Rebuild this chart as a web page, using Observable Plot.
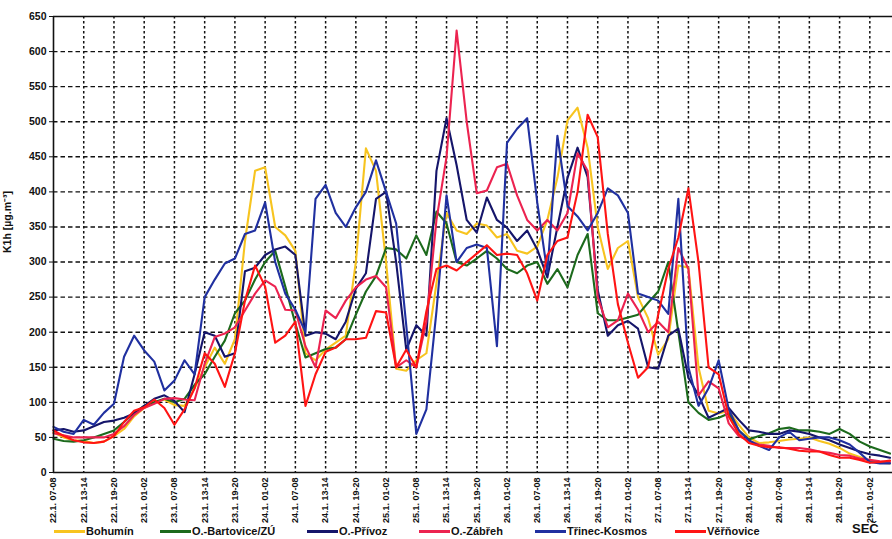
<!DOCTYPE html>
<html>
<head>
<meta charset="utf-8">
<script src="https://cdn.jsdelivr.net/npm/d3@7"></script>
<script src="https://cdn.jsdelivr.net/npm/@observablehq/plot@0.6"></script>
<style>
  body { margin: 0; background: #fff; font-family: "Liberation Sans", Arial, sans-serif; }
  #chart { position: relative; width: 892px; height: 539px; overflow: hidden; }
  #chart svg { display: block; }
  .legend { position: absolute; top: 522px; left: 0; width: 892px; height: 17px; font-weight: bold; font-size: 11px; color: #111; }
  .item { position: absolute; top: 2px; height: 14px; line-height: 14px; white-space: nowrap; }
  .sw { display: inline-block; width: 31px; height: 0; border-top: 3px solid; vertical-align: middle; margin-right: 1px; position: relative; top: -1px; }
  .unit { position: absolute; top: -1px; left: 852px; font-size: 13px; font-weight: bold; background: transparent; }
</style>
</head>
<body>
<div id="chart"></div>
<script>
// Hourly PM10 concentrations (K1h), sampled every 2 hours from 22.1. 07-08 onwards
const stepHours = 2;

const stations = ["Bohumín", "O.-Bartovice/ZÚ", "O.-Přívoz", "O.-Zábřeh", "Třinec-Kosmos", "Věřňovice"];
const colors = ["#f7c41f", "#1c6a1c", "#15156a", "#ec2350", "#2030a0", "#ff1414"];

const bohumin = [
  57, 50, 46, 45, 42, 44, 52, 62, 80, 92, 100, 104,
  96, 95, 120, 150, 178, 155, 190, 330, 430, 435, 350, 338,
  316, 170, 160, 175, 185, 195, 300, 462, 430, 300, 148, 145,
  160, 170, 270, 370, 345, 340, 355, 352, 335, 340, 316, 312,
  322, 360, 420, 502, 520, 463, 350, 290, 320, 330, 250, 220,
  168, 190, 295, 292, 150, 88, 84, 88, 68, 50, 42, 43,
  45, 47, 48, 50, 45, 41, 35, 27, 22, 16, 14, 13
];
const bartovice = [
  48, 45, 44, 46, 50, 55, 60, 72, 85, 95, 100, 105,
  100, 105, 125, 140, 165, 188, 227, 245, 275, 300, 316, 265,
  212, 164, 170, 176, 178, 190, 225, 258, 280, 320, 318, 305,
  338, 310, 372, 355, 300, 295, 305, 316, 305, 290, 284, 295,
  300, 269, 290, 264, 310, 340, 227, 217, 217, 221, 225, 242,
  258, 300, 200, 100, 85, 75, 78, 84, 60, 47, 52, 56,
  62, 64, 60, 60, 58, 55, 62, 55, 44, 37, 32, 27
];
const privoz = [
  60, 62, 58, 60, 66, 72, 74, 78, 84, 95, 105, 110,
  102, 86, 140, 200, 195, 165, 170, 287, 292, 310, 318, 322,
  310, 195, 200, 198, 190, 215, 262, 284, 390, 400, 300, 175,
  210, 195, 430, 505, 438, 360, 342, 392, 360, 349, 330, 345,
  318, 278, 350, 420, 463, 421, 260, 195, 210, 216, 205, 150,
  148, 195, 205, 135, 110, 78, 85, 92, 75, 60, 58, 55,
  55, 60, 58, 55, 50, 46, 40, 35, 30, 26, 24, 21
];
const zabreh = [
  56, 53, 50, 50, 50, 50, 55, 66, 82, 92, 98, 105,
  106, 104, 103, 155, 193, 198, 207, 231, 255, 274, 265, 232,
  231, 180, 150, 231, 220, 245, 264, 275, 280, 264, 150, 160,
  150, 215, 360, 450, 630, 500, 398, 402, 435, 440, 395, 360,
  345, 360, 345, 370, 455, 430, 250, 207, 217, 255, 232, 200,
  215, 200, 320, 290, 110, 130, 120, 70, 52, 45, 40, 38,
  35, 35, 35, 33, 30, 28, 25, 24, 20, 18, 16, 15
];
const trinec = [
  65, 58, 55, 75, 68, 85, 98, 165, 195, 174, 158, 117,
  131, 160, 140, 250, 275, 298, 305, 340, 345, 385, 300, 255,
  232, 200, 390, 410, 370, 350, 378, 400, 445, 400, 355, 210,
  55, 90, 230, 395, 300, 320, 325, 320, 180, 470, 490, 505,
  385, 285, 480, 380, 365, 345, 370, 405, 395, 370, 255, 250,
  245, 226, 390, 150, 95, 120, 160, 90, 60, 46, 38, 32,
  50, 58, 46, 48, 50, 50, 46, 40, 28, 15, 13, 13
];
const vernovice = [
  60, 52, 46, 43, 42, 44, 52, 72, 88, 93, 104, 92,
  68, 90, 120, 170, 155, 122, 170, 245, 295, 265, 185, 195,
  215, 95, 140, 172, 178, 190, 190, 192, 230, 228, 150, 175,
  150, 230, 290, 295, 288, 300, 312, 324, 310, 312, 310, 284,
  245, 310, 330, 335, 400, 510, 478, 340, 240, 185, 135, 150,
  225, 290, 335, 405, 300, 150, 140, 80, 55, 42, 38, 36,
  36, 34, 31, 30, 30, 25, 21, 21, 18, 14, 15, 17
];

const tickLabels = [
  "22.1. 07-08", "22.1. 13-14", "22.1. 19-20",
  "23.1. 01-02", "23.1. 07-08", "23.1. 13-14", "23.1. 19-20",
  "24.1. 01-02", "24.1. 07-08", "24.1. 13-14", "24.1. 19-20",
  "25.1. 01-02", "25.1. 07-08", "25.1. 13-14", "25.1. 19-20",
  "26.1. 01-02", "26.1. 07-08", "26.1. 13-14", "26.1. 19-20",
  "27.1. 01-02", "27.1. 07-08", "27.1. 13-14", "27.1. 19-20",
  "28.1. 01-02", "28.1. 07-08", "28.1. 13-14", "28.1. 19-20",
  "29.1. 01-02"
];
const yTicks = d3.range(0, 651, 50);

// Long table: one row per station and time step
const series = [bohumin, bartovice, privoz, zabreh, trinec, vernovice];
const rows = series.flatMap((vals, s) =>
  vals.map((v, i) => ({station: stations[s], hour: i * stepHours, value: v}))
);

// Axis ticks every 6 hours
const tickHours = tickLabels.map((_, i) => i * 6);
const labelByHour = new Map(tickHours.map((h, i) => [h, tickLabels[i]]));

const chart = Plot.plot({
  width: 892,
  height: 539,
  marginLeft: 53,
  marginRight: 0,
  marginTop: 16,
  marginBottom: 67,
  x: {domain: [0, 166.5]},
  y: {domain: [0, 650]},
  style: {fontFamily: "'Liberation Sans', Arial, sans-serif", background: "white", color: "#111"},
  marks: [
    Plot.gridY(yTicks.filter(d => d > 0 && d < 650), {stroke: "#111", strokeOpacity: 1, strokeWidth: 1.4, strokeDasharray: "4.5,3"}),
    Plot.gridX(tickHours.slice(1), {stroke: "#111", strokeOpacity: 1, strokeWidth: 1.5, strokeDasharray: "2.5,2.5"}),
    ...stations.map((name, s) =>
      Plot.line(rows.filter(d => d.station === name), {x: "hour", y: "value", stroke: colors[s], strokeWidth: 2.1, strokeLinejoin: "round"})
    ),
    Plot.ruleY([0, 650], {stroke: "#111", strokeWidth: 1.6}),
    Plot.ruleX([0], {stroke: "#111", strokeWidth: 1.6}),
    Plot.axisY(yTicks, {tickSize: 4, tickPadding: 3, fontSize: 10.5, fontWeight: "bold", label: null}),
    Plot.axisX(tickHours, {
      tickSize: 0, tickPadding: 5, tickRotate: -90,
      tickFormat: h => labelByHour.get(h),
      fontSize: 9, fontWeight: "bold", label: null
    })
  ]
});

// Y axis title with superscript unit
d3.select(chart).append("text")
  .attr("transform", "translate(11,222) rotate(-90)")
  .attr("text-anchor", "middle")
  .attr("font-size", 10.5)
  .attr("font-weight", "bold")
  .attr("fill", "#111")
  .text("K1h [µg.m⁻³]");

const root = document.getElementById("chart");
root.appendChild(chart);

// Legend row under the axis labels
const legendLeft = [54, 160, 307, 419, 535, 675];
const legend = document.createElement("div");
legend.className = "legend";
stations.forEach((name, s) => {
  const item = document.createElement("div");
  item.className = "item";
  item.style.left = legendLeft[s] + "px";
  const sw = document.createElement("span");
  sw.className = "sw";
  sw.style.borderTopColor = colors[s];
  item.appendChild(sw);
  item.appendChild(document.createTextNode(name));
  legend.appendChild(item);
});
const unit = document.createElement("div");
unit.className = "unit";
unit.textContent = "SEČ";
legend.appendChild(unit);
root.appendChild(legend);
</script>
</body>
</html>
